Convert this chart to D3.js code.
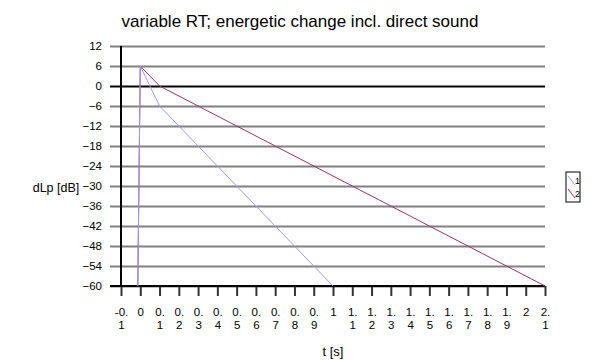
<!DOCTYPE html>
<html>
<head>
<meta charset="utf-8">
<script src="https://cdn.jsdelivr.net/npm/d3@7"></script>
<style>
  body { margin: 0; background: #fff; }
  svg { font-family: "Liberation Sans", Arial, sans-serif; }
</style>
</head>
<body>
<svg id="chart" width="600" height="361"></svg>
<script>
// series data: t [s] and dLp [dB]
const SERIES_NAMES = ['1', '2'];
const T_1 = [-0.013, 0, 0.1, 1.0];
const DLP_1 = [-60, 6, -6, -60];
const T_2 = [-0.013, 0, 0.1, 2.1];
const DLP_2 = [-60, 6, 0, -60];
const SERIES_COLORS = ['#9999ff', '#993366'];

// tick values
const X_TICKS = [-0.1, 0, 0.1, 0.2, 0.3, 0.4, 0.5, 0.6, 0.7, 0.8, 0.9, 1, 1.1, 1.2, 1.3, 1.4, 1.5, 1.6, 1.7, 1.8, 1.9, 2, 2.1];
const Y_TICKS = [12, 6, 0, -6, -12, -18, -24, -30, -36, -42, -48, -54, -60];

const SVG = d3.select('#chart');

// plot area
const LEFT = 121, RIGHT = 545, TOP = 46, BOTTOM = 286;

const X_SCALE = d3.scaleLinear().domain([-0.1, 2.1]).range([LEFT, RIGHT]);
const Y_SCALE = d3.scaleLinear().domain([-60, 12]).range([BOTTOM, TOP]);

// title
SVG.append('text')
    .attr('x', 300).attr('y', 27)
    .attr('text-anchor', 'middle')
    .style('font-size', '17px')
    .text('variable RT; energetic change incl. direct sound');

// y axis with grid lines
const Y_AXIS = d3.axisLeft(Y_SCALE).tickValues(Y_TICKS).tickSize(0).tickPadding(19);
const Y_G = SVG.append('g').attr('transform', `translate(${LEFT}, 0)`).call(Y_AXIS);
Y_G.select('.domain').remove();
Y_G.selectAll('.tick line')
    .attr('x1', -11).attr('x2', RIGHT - LEFT)
    .attr('stroke', d => d === 0 ? '#000' : '#808080')
    .attr('stroke-width', 2);
Y_G.selectAll('.tick text').style('font-size', '11.5px').attr('fill', '#000');

// x axis
const X_AXIS = d3.axisBottom(X_SCALE).tickValues(X_TICKS).tickSize(10).tickFormat(d => String(+d.toFixed(1)));
const X_G = SVG.append('g').attr('transform', `translate(0, ${BOTTOM})`).call(X_AXIS);
X_G.select('.domain').remove();
X_G.selectAll('.tick line').attr('stroke', '#333').attr('stroke-width', 2);
X_G.selectAll('.tick text').each(function (d) {
    const s = String(+d.toFixed(1));
    const el = d3.select(this).text(null).style('font-size', '11.5px').attr('fill', '#000').attr('y', 22);
    const parts = s.includes('.') ? [s.slice(0, s.indexOf('.') + 1), s.slice(s.indexOf('.') + 1)] : [s];
    parts.forEach((p, i) => el.append('tspan').attr('x', 0).attr('dy', i === 0 ? '0.71em' : '1.12em').text(p));
});

// axis lines
SVG.append('line')
    .attr('x1', LEFT).attr('x2', LEFT).attr('y1', Y_SCALE(12)).attr('y2', BOTTOM)
    .attr('stroke', '#000').attr('stroke-width', 2);
SVG.append('line')
    .attr('x1', LEFT - 11).attr('x2', RIGHT).attr('y1', BOTTOM).attr('y2', BOTTOM)
    .attr('stroke', '#000').attr('stroke-width', 2);

// axis titles
SVG.append('text')
    .attr('x', 56).attr('y', 192)
    .attr('text-anchor', 'middle')
    .style('font-size', '12.5px')
    .text('dLp [dB]');
SVG.append('text')
    .attr('x', (LEFT + RIGHT) / 2).attr('y', 356)
    .attr('text-anchor', 'middle')
    .style('font-size', '13px')
    .text('t [s]');

// lines
const LINE = d3.line().x(d => X_SCALE(d[0])).y(d => Y_SCALE(d[1]));
const SERIES = [d3.zip(T_2, DLP_2), d3.zip(T_1, DLP_1)];
const SERIES_COL = [SERIES_COLORS[1], SERIES_COLORS[0]];
SERIES.forEach((pts, i) => {
    SVG.append('path')
        .attr('d', LINE(pts))
        .attr('fill', 'none')
        .attr('stroke', SERIES_COL[i])
        .attr('stroke-width', 1);
});

// legend
const LEG = SVG.append('g').attr('transform', 'translate(566, 172)');
LEG.append('rect')
    .attr('width', 14).attr('height', 30)
    .attr('fill', '#fff').attr('stroke', '#000').attr('stroke-width', 1);
SERIES_NAMES.forEach((name, i) => {
    const g = LEG.append('g').attr('transform', `translate(0, ${3 + i * 13})`);
    g.append('line')
        .attr('x1', 2).attr('y1', 1).attr('x2', 9).attr('y2', 10)
        .attr('stroke', SERIES_COLORS[i]).attr('stroke-width', 1);
    g.append('text')
        .attr('x', 9).attr('y', 9)
        .style('font-size', '9px')
        .text(name);
});
</script>
</body>
</html>
